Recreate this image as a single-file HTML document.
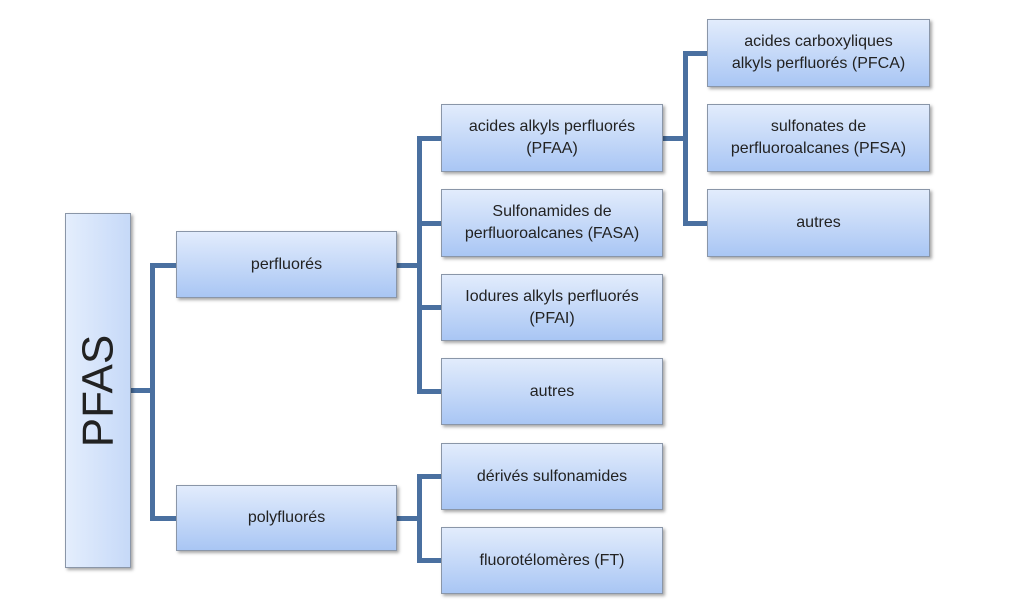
<!DOCTYPE html>
<html><head><meta charset="utf-8"><style>
body{margin:0;width:1024px;height:606px;background:#fff;position:relative;overflow:hidden;font-family:"Liberation Sans",sans-serif}
.b{position:absolute;box-sizing:border-box;border:1px solid #8a96a8;background:linear-gradient(#e2ecfc,#a9c6f4);box-shadow:2px 2px 3px rgba(0,0,0,.35);display:flex;align-items:center;justify-content:center;text-align:center;font-size:16px;line-height:22px;color:#222}
.l{position:absolute;background:#4a70a0}
</style></head><body>
<div class="l" style="left:131px;top:388px;width:23px;height:5px"></div>
<div class="l" style="left:150px;top:263px;width:5px;height:258px"></div>
<div class="l" style="left:150px;top:263px;width:28px;height:5px"></div>
<div class="l" style="left:150px;top:516px;width:28px;height:5px"></div>
<div class="l" style="left:397px;top:263px;width:23px;height:5px"></div>
<div class="l" style="left:417px;top:136px;width:5px;height:258px"></div>
<div class="l" style="left:417px;top:136px;width:26px;height:5px"></div>
<div class="l" style="left:417px;top:221px;width:26px;height:5px"></div>
<div class="l" style="left:417px;top:305px;width:26px;height:5px"></div>
<div class="l" style="left:417px;top:389px;width:26px;height:5px"></div>
<div class="l" style="left:397px;top:516px;width:23px;height:5px"></div>
<div class="l" style="left:417px;top:474px;width:5px;height:89px"></div>
<div class="l" style="left:417px;top:474px;width:26px;height:5px"></div>
<div class="l" style="left:417px;top:558px;width:26px;height:5px"></div>
<div class="l" style="left:663px;top:136px;width:25px;height:5px"></div>
<div class="l" style="left:683px;top:51px;width:5px;height:175px"></div>
<div class="l" style="left:683px;top:51px;width:26px;height:5px"></div>
<div class="l" style="left:683px;top:221px;width:26px;height:5px"></div>

<div class="b" style="left:65px;top:213px;width:66px;height:355px;background:linear-gradient(90deg,#e4eefd,#c6d9f8)"><span style="transform:rotate(-90deg);font-size:44px;white-space:nowrap;line-height:44px">PFAS</span></div>
<div class="b" style="left:176px;top:231px;width:221px;height:67px">perfluorés</div>
<div class="b" style="left:176px;top:485px;width:221px;height:66px">polyfluorés</div>
<div class="b" style="left:441px;top:104px;width:222px;height:68px">acides alkyls perfluorés<br>(PFAA)</div>
<div class="b" style="left:441px;top:189px;width:222px;height:68px">Sulfonamides de<br>perfluoroalcanes (FASA)</div>
<div class="b" style="left:441px;top:274px;width:222px;height:67px">Iodures alkyls perfluorés<br>(PFAI)</div>
<div class="b" style="left:441px;top:358px;width:222px;height:67px">autres</div>
<div class="b" style="left:441px;top:443px;width:222px;height:67px">dérivés sulfonamides</div>
<div class="b" style="left:441px;top:527px;width:222px;height:67px">fluorotélomères (FT)</div>
<div class="b" style="left:707px;top:19px;width:223px;height:68px">acides carboxyliques<br>alkyls perfluorés (PFCA)</div>
<div class="b" style="left:707px;top:104px;width:223px;height:68px">sulfonates de<br>perfluoroalcanes (PFSA)</div>
<div class="b" style="left:707px;top:189px;width:223px;height:68px">autres</div>
</body></html>
